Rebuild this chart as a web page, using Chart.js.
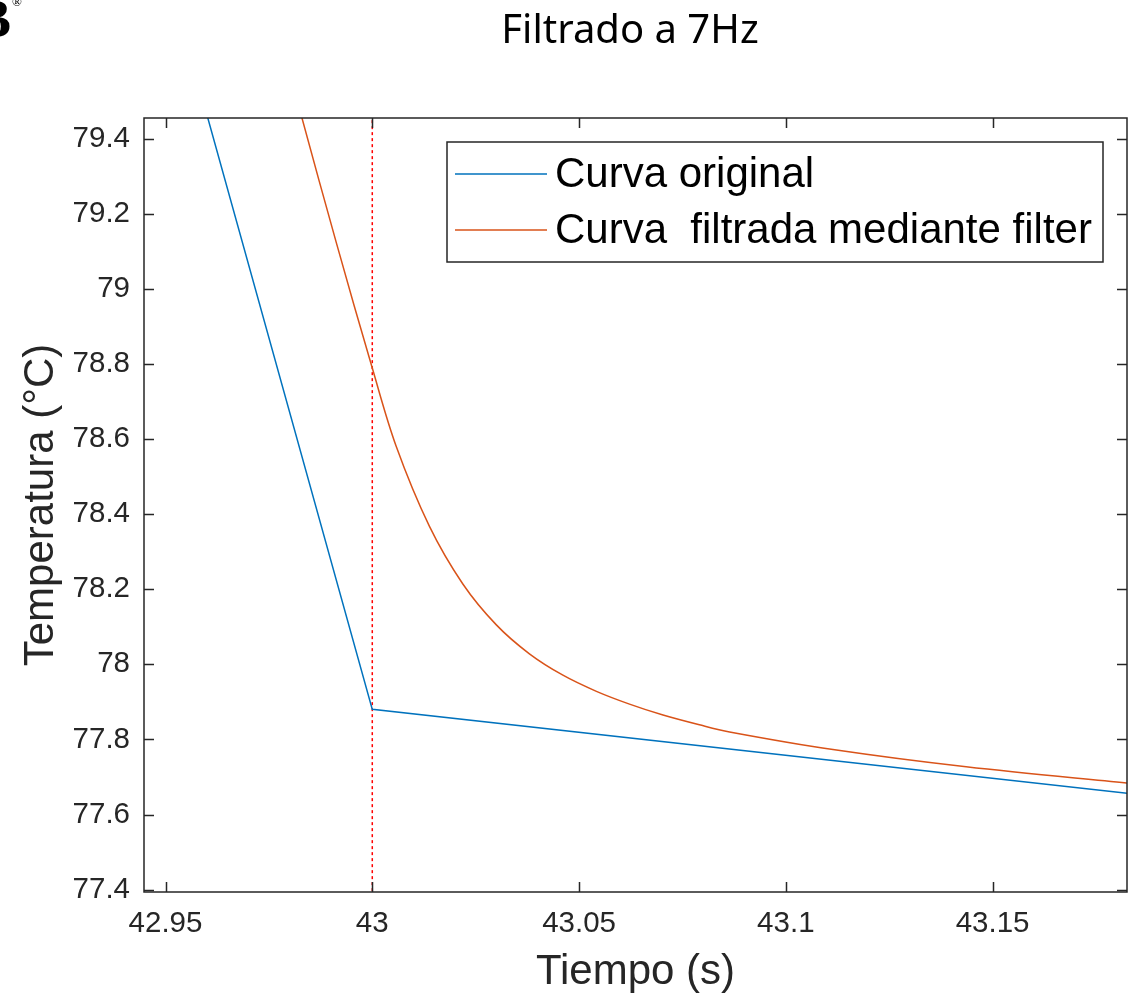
<!DOCTYPE html>
<html>
<head>
<meta charset="utf-8">
<script src="https://cdn.jsdelivr.net/npm/chart.js@4"></script>
<style>
  html, body { margin: 0; padding: 0; background: #fff; }
  #wrap { width: 1143px; height: 999px; }
</style>
</head>
<body>
<div id="wrap"><canvas id="chart" width="1143" height="999"></canvas></div>
<script>
// --- Data ---
const originalX = [42.95, 43.0, 43.2];
const originalY = [79.86, 77.88, 77.635];

const filteredX = [42.975, 42.983, 42.9913, 43.0, 43.0058, 43.0138, 43.0219, 43.03, 43.038, 43.0461,
                   43.0542, 43.0622, 43.0703, 43.0791, 43.0864, 43.1114, 43.1436, 43.1824, 43.19];
const filteredY = [79.783, 79.455, 79.123, 78.789, 78.58, 78.368, 78.214, 78.105, 78.028, 77.971,
                   77.928, 77.894, 77.865, 77.839, 77.82, 77.773, 77.727, 77.684, 77.676];

const markerX = 43.0;
const markerY = [77.3, 79.6];

const xTicks = [42.95, 43, 43.05, 43.1, 43.15];
const yTicks = [77.4, 77.6, 77.8, 78, 78.2, 78.4, 78.6, 78.8, 79, 79.2, 79.4];

const X_MIN = 42.9448, X_MAX = 43.1825;
const Y_MIN = 77.3936, Y_MAX = 79.455;

const labels = ['Curva original', 'Curva  filtrada mediante filter'];
const titleText = 'Filtrado a 7Hz';

// --- Style ---
const BLUE = '#0072BD';
const ORANGE = '#D95319';
const AXIS = '#262626';
const SANS = '"Liberation Sans", Arial, Helvetica, sans-serif';

const toPoints = (xs, ys) => xs.map((x, i) => ({ x, y: ys[i] }));

// frame with inward ticks on all four sides (MATLAB look)
const framePlugin = {
    id: 'frame',
    afterDatasetsDraw(chart) {
        const { ctx, chartArea: a, scales } = chart;
        const tl = 10;
        ctx.save();
        ctx.strokeStyle = AXIS;
        ctx.lineWidth = 1.5;
        ctx.beginPath();
        xTicks.forEach(v => {
            const px = Math.round(scales.x.getPixelForValue(v)) + 0.5;
            ctx.moveTo(px, a.bottom); ctx.lineTo(px, a.bottom - tl);
            ctx.moveTo(px, a.top); ctx.lineTo(px, a.top + tl);
        });
        yTicks.forEach(v => {
            const py = Math.round(scales.y.getPixelForValue(v)) + 0.5;
            ctx.moveTo(a.left, py); ctx.lineTo(a.left + tl, py);
            ctx.moveTo(a.right, py); ctx.lineTo(a.right - tl, py);
        });
        ctx.stroke();
        ctx.strokeRect(a.left, a.top, a.right - a.left, a.bottom - a.top);
        ctx.restore();
    }
};

// legend box inside the plot, top right
const legendPlugin = {
    id: 'boxLegend',
    afterDraw(chart) {
        const ctx = chart.ctx;
        const box = { x: 447, y: 142, w: 656, h: 120 };
        const rows = [174, 230];
        ctx.save();
        ctx.fillStyle = '#fff';
        ctx.fillRect(box.x, box.y, box.w, box.h);
        ctx.strokeStyle = AXIS;
        ctx.lineWidth = 1.5;
        ctx.strokeRect(box.x, box.y, box.w, box.h);
        chart.data.datasets.slice(0, 2).forEach((ds, i) => {
            ctx.strokeStyle = ds.borderColor;
            ctx.lineWidth = 1.5;
            ctx.beginPath();
            ctx.moveTo(455, rows[i]);
            ctx.lineTo(547, rows[i]);
            ctx.stroke();
            ctx.fillStyle = '#000';
            ctx.font = '42px ' + SANS;
            ctx.textBaseline = 'middle';
            ctx.textAlign = 'left';
            ctx.fillText(ds.label, 555, rows[i] + 1);
        });
        ctx.restore();
    }
};

// page title and the cropped logo in the corner
const headerPlugin = {
    id: 'header',
    afterDraw(chart) {
        const ctx = chart.ctx;
        ctx.save();
        ctx.fillStyle = '#000';
        ctx.font = '40px "Noto Sans", "Open Sans", sans-serif';
        ctx.textAlign = 'center';
        ctx.textBaseline = 'alphabetic';
        ctx.fillText(titleText, 630, 43);
        ctx.font = 'bold 54px "Liberation Serif", serif';
        ctx.textAlign = 'right';
        ctx.fillText('B', 11, 37);
        ctx.font = '13px "Liberation Serif", serif';
        ctx.textAlign = 'center';
        ctx.fillText('®', 17, 6);
        ctx.restore();
    }
};

const fmt = v => String(Number(v.toFixed(2)));

new Chart(document.getElementById('chart'), {
    type: 'line',
    data: {
        datasets: [
            {
                label: labels[0],
                data: toPoints(originalX, originalY),
                borderColor: BLUE,
                borderWidth: 1.5,
                pointRadius: 0,
                tension: 0
            },
            {
                label: labels[1],
                data: toPoints(filteredX, filteredY),
                borderColor: ORANGE,
                borderWidth: 1.5,
                pointRadius: 0,
                tension: 0.35
            },
            {
                label: 'marker',
                data: markerY.map(y => ({ x: markerX, y })),
                borderColor: '#FF0000',
                borderWidth: 1.5,
                borderDash: [3, 3],
                pointRadius: 0
            }
        ]
    },
    options: {
        responsive: false,
        animation: false,
        layout: { padding: { top: 118, right: 16, left: 0, bottom: 0 } },
        plugins: {
            legend: { display: false },
            title: { display: false },
            tooltip: { enabled: false }
        },
        scales: {
            x: {
                type: 'linear',
                min: X_MIN,
                max: X_MAX,
                afterBuildTicks: s => { s.ticks = xTicks.map(v => ({ value: v })); },
                afterFit: s => { s.height = 107; },
                grid: { display: false },
                border: { display: false },
                ticks: {
                    color: AXIS,
                    font: { family: SANS, size: 29.5 },
                    padding: 6,
                    maxRotation: 0,
                    autoSkip: false,
                    callback: v => fmt(v)
                },
                title: {
                    display: true,
                    text: 'Tiempo (s)',
                    color: AXIS,
                    font: { family: SANS, size: 42 },
                    padding: { top: 0, bottom: 1 }
                }
            },
            y: {
                type: 'linear',
                min: Y_MIN,
                max: Y_MAX,
                afterBuildTicks: s => { s.ticks = yTicks.map(v => ({ value: v })); },
                afterFit: s => { s.width = 144; },
                grid: { display: false },
                border: { display: false },
                ticks: {
                    color: AXIS,
                    font: { family: SANS, size: 29.5 },
                    padding: 6,
                    autoSkip: false,
                    callback: v => fmt(v)
                },
                title: {
                    display: true,
                    text: 'Temperatura (°C)',
                    color: AXIS,
                    font: { family: SANS, size: 42 },
                    padding: { top: 16, bottom: 0 }
                }
            }
        }
    },
    plugins: [framePlugin, legendPlugin, headerPlugin]
});
</script>
</body>
</html>
